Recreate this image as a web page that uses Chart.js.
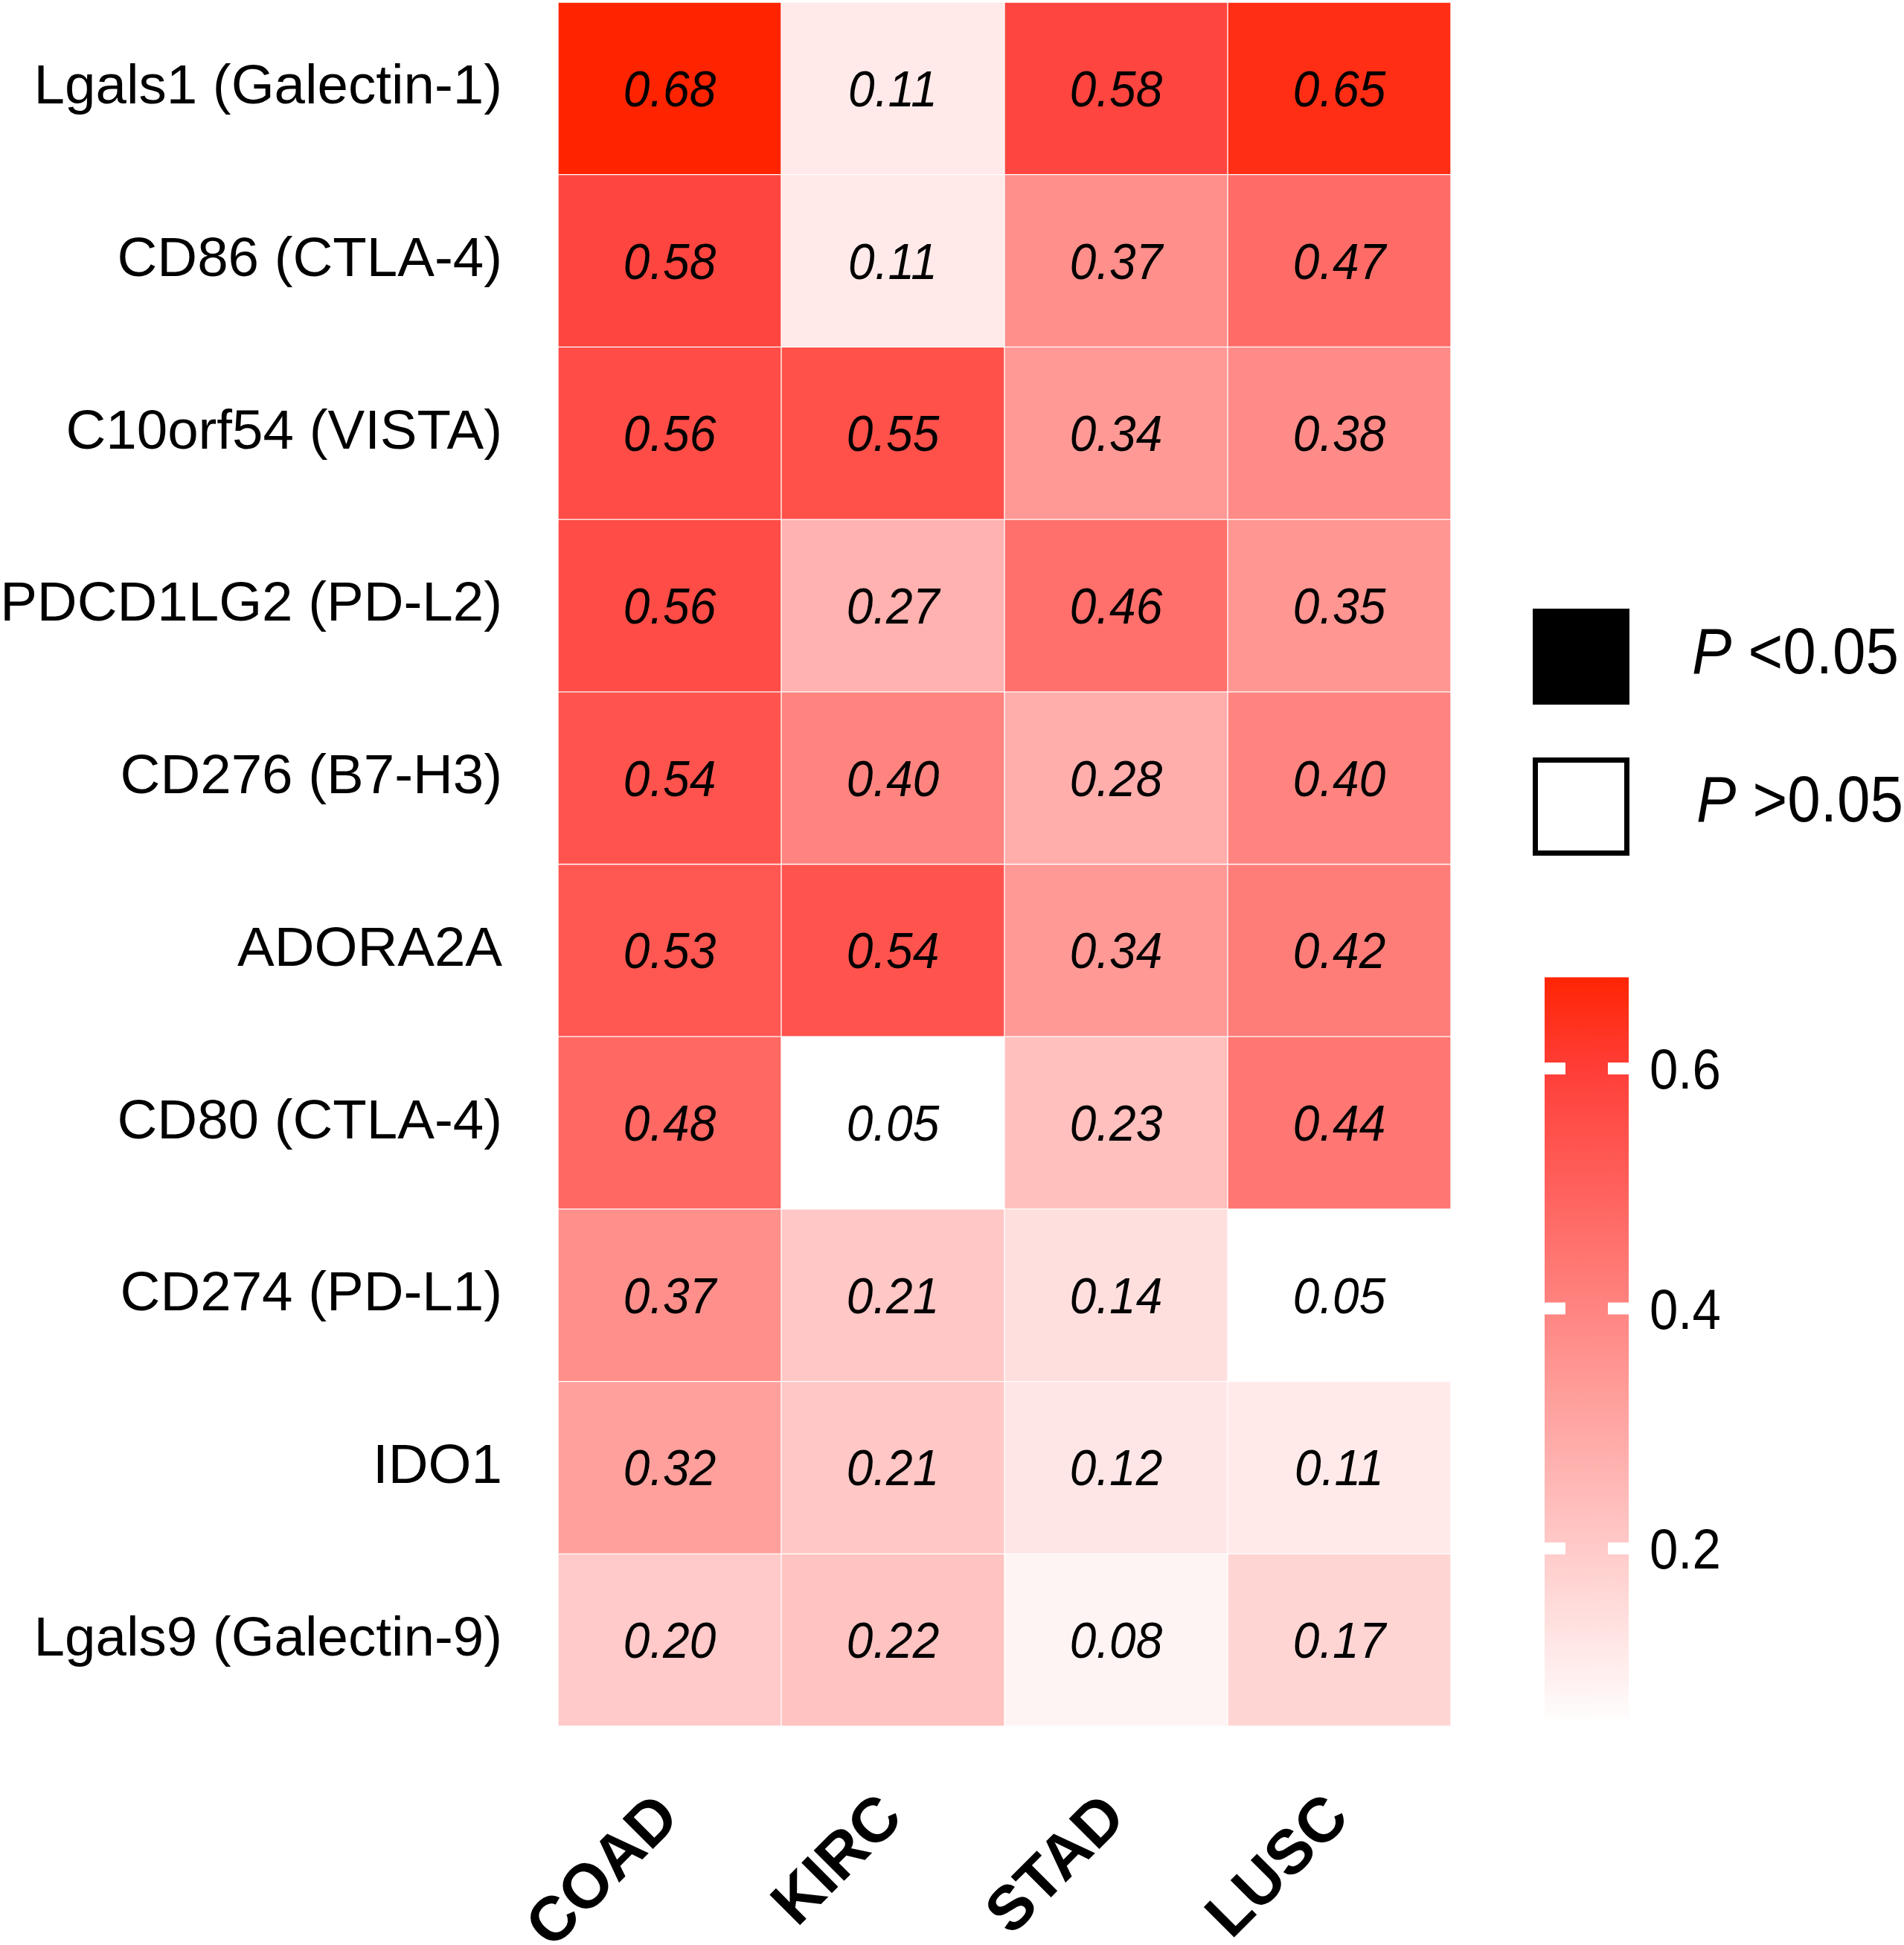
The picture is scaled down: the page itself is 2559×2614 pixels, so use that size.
<!DOCTYPE html>
<html>
<head>
<meta charset="utf-8">
<script src="https://cdn.jsdelivr.net/npm/chart.js@4.4.0/dist/chart.umd.min.js"></script>
<style>
html,body{margin:0;padding:0;background:#fff;}
#wrap{width:2559px;height:2614px;position:relative;}
</style>
</head>
<body>
<div id="wrap"><canvas id="c"></canvas></div>
<script>
// ---- data ----
const rowLabels = [
  'Lgals1 (Galectin-1)', 'CD86 (CTLA-4)', 'C10orf54 (VISTA)', 'PDCD1LG2 (PD-L2)',
  'CD276 (B7-H3)', 'ADORA2A', 'CD80 (CTLA-4)', 'CD274 (PD-L1)', 'IDO1', 'Lgals9 (Galectin-9)'
];
const cancerTypes = ['COAD', 'KIRC', 'STAD', 'LUSC'];
const coad = [0.68, 0.58, 0.56, 0.56, 0.54, 0.53, 0.48, 0.37, 0.32, 0.20];
const kirc = [0.11, 0.11, 0.55, 0.27, 0.40, 0.54, 0.05, 0.21, 0.21, 0.22];
const stad = [0.58, 0.37, 0.34, 0.46, 0.28, 0.34, 0.23, 0.14, 0.12, 0.08];
const lusc = [0.65, 0.47, 0.38, 0.35, 0.40, 0.42, 0.44, 0.05, 0.11, 0.17];
const colorbarTicks = [0.2, 0.4, 0.6];
const colorbarRange = [0.058, 0.676];
const legendLabels = ['<0.05', '>0.05'];

const columns = [coad, kirc, stad, lusc];

// ---- colour scale ----
const colorStops = [[0.05, [255, 255, 255]], [0.6, [255, 62, 56]], [0.68, [255, 36, 0]]];
function colorFor(v) {
  if (v <= colorStops[0][0]) return 'rgb(' + colorStops[0][1].join(',') + ')';
  for (let i = 1; i < colorStops.length; i++) {
    const [v1, c1] = colorStops[i];
    const [v0, c0] = colorStops[i - 1];
    if (v <= v1 || i === colorStops.length - 1) {
      const t = Math.min(1, Math.max(0, (v - v0) / (v1 - v0)));
      const c = c0.map((x, k) => Math.round(x + (c1[k] - x) * t));
      return 'rgb(' + c.join(',') + ')';
    }
  }
}

const FONT = '"Liberation Sans", Arial, Helvetica, sans-serif';

function drawText(ctx, str, x, y, font, align, sy) {
  ctx.save();
  ctx.translate(x, y);
  ctx.scale(1, sy);
  ctx.font = font;
  ctx.textAlign = align;
  ctx.textBaseline = 'alphabetic';
  ctx.fillStyle = '#000';
  ctx.fillText(str, 0, 0);
  ctx.restore();
}

const datasets = rowLabels.map((name, r) => ({
  label: name,
  data: cancerTypes.map(() => [r, r + 1]),
  values: columns.map(col => col[r]),
  backgroundColor: columns.map(col => colorFor(col[r])),
  borderColor: 'rgba(255,255,255,0.12)',
  borderWidth: 1,
  borderSkipped: false,
  grouped: false,
  barPercentage: 1,
  categoryPercentage: 1
}));

const valueLabels = {
  id: 'valueLabels',
  afterDatasetsDraw(chart) {
    const ctx = chart.ctx;
    chart.data.datasets.forEach((ds, di) => {
      const meta = chart.getDatasetMeta(di);
      meta.data.forEach((bar, ci) => {
        const cy = (bar.y + bar.base) / 2;
        drawText(ctx, ds.values[ci].toFixed(2), bar.x, cy + 24, 'italic 64px ' + FONT, 'center', 1.07);
      });
    });
  }
};

const sideLegend = {
  id: 'sideLegend',
  afterDraw(chart) {
    const ctx = chart.ctx;
    ctx.save();
    // significance legend
    ctx.fillStyle = '#000';
    ctx.fillRect(2060, 818, 130, 129);
    ctx.lineWidth = 7;
    ctx.strokeStyle = '#000';
    ctx.strokeRect(2063.5, 1021.5, 123, 125);
    const rows = [[2274, 905], [2280, 1104]];
    legendLabels.forEach((lab, i) => {
      const [x, y] = rows[i];
      ctx.font = 'italic 80px ' + FONT;
      const wP = ctx.measureText('P').width;
      drawText(ctx, 'P', x, y, 'italic 80px ' + FONT, 'left', 1.08);
      drawText(ctx, ' ' + lab, x + wP, y, '80px ' + FONT, 'left', 1.08);
    });
    // colour bar
    const cbX = 2076, cbW = 113;
    const cbY = v => 2081 - (v - 0.2) * 1612.5;
    const top = cbY(colorbarRange[1]), bot = cbY(colorbarRange[0]);
    const g = ctx.createLinearGradient(0, top, 0, bot);
    for (let k = 0; k <= 40; k++) {
      const v = colorbarRange[1] - (colorbarRange[1] - colorbarRange[0]) * k / 40;
      g.addColorStop(k / 40, colorFor(v));
    }
    ctx.fillStyle = g;
    ctx.fillRect(cbX, top, cbW, bot - top);
    colorbarTicks.forEach(t => {
      const y = cbY(t);
      ctx.fillStyle = '#fff';
      ctx.fillRect(cbX, y - 8, 28, 16);
      ctx.fillRect(cbX + cbW - 28, y - 8, 28, 16);
      drawText(ctx, t.toFixed(1), 2217, y + 27, '69px ' + FONT, 'left', 1.1);
    });
    ctx.restore();
  }
};

new Chart(document.getElementById('c'), {
  type: 'bar',
  data: { labels: cancerTypes, datasets },
  options: {
    responsive: true,
    maintainAspectRatio: false,
    devicePixelRatio: 1,
    animation: false,
    layout: { padding: { left: 0, right: 609, top: 3, bottom: 0 } },
    plugins: { legend: { display: false }, tooltip: { enabled: false } },
    datasets: { bar: { grouped: false, barPercentage: 1, categoryPercentage: 1 } },
    scales: {
      x: {
        type: 'category',
        offset: true,
        grid: { display: false, drawTicks: false },
        border: { display: false },
        ticks: {
          color: '#000',
          font: { family: FONT, size: 84, weight: 'bold' },
          maxRotation: 45, minRotation: 45, autoSkip: false, padding: 74
        },
        afterFit(s) { s.height = 294; s.paddingLeft = 0; s.paddingRight = 0; }
      },
      y: {
        type: 'linear',
        min: 0, max: 10, reverse: true,
        grid: { display: false, drawTicks: false },
        border: { display: false },
        afterBuildTicks(s) { s.ticks = rowLabels.map((_, i) => ({ value: i + 0.5 })); },
        ticks: {
          color: '#000',
          font: { family: FONT, size: 74.5 },
          padding: 75,
          autoSkip: false,
          callback: v => rowLabels[Math.floor(v)]
        },
        afterFit(s) { s.width = 750; s.paddingTop = 0; s.paddingBottom = 0; }
      }
    }
  },
  plugins: [valueLabels, sideLegend]
});
</script>
</body>
</html>
